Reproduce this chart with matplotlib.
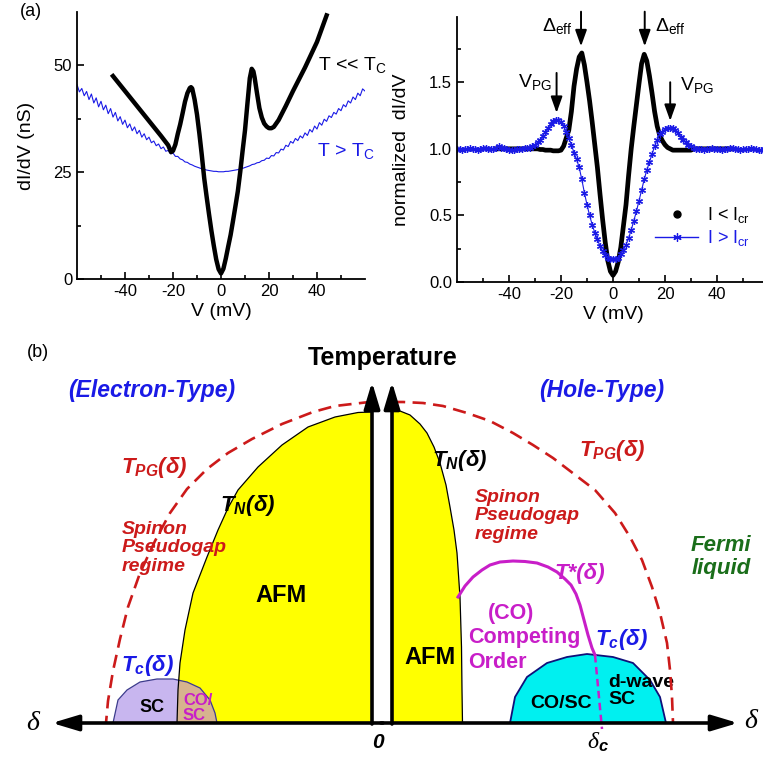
import matplotlib
matplotlib.use('Agg')
import matplotlib.pyplot as plt
from matplotlib.lines import Line2D
from matplotlib.patches import Polygon
import numpy as np

plt.rcParams['font.family'] = 'Liberation Sans'
plt.rcParams['axes.unicode_minus'] = False
plt.rcParams['mathtext.fontset'] = 'custom'
plt.rcParams['mathtext.rm'] = 'Liberation Sans'
plt.rcParams['mathtext.it'] = 'Liberation Sans:italic'
plt.rcParams['mathtext.bf'] = 'Liberation Sans:bold'
plt.rcParams['mathtext.bfit'] = 'Liberation Sans:italic:bold'

BLUE = '#1a1ae6'
RED = '#cc1a1a'
MAG = '#c81ec8'
GREEN = '#1a6e1a'

##################### (a) left: raw dI/dV #####################
v_cold = [-45, -40, -35, -30, -25, -22, -20.8, -20, -19, -18, -17, -16, -15, -14, -13,
          -12.5, -12, -11, -10, -9, -8, -7, -6, -5, -4, -3, -2, -1, 0, 1,
          2, 3, 4, 5, 6, 7, 8, 9, 10, 11, 12, 12.8, 13.5, 14, 15,
          16, 17, 18, 19, 20, 21, 22, 24, 27, 30, 35, 40, 44]
g_cold = [47.5, 44.0, 40.5, 37.0, 33.5, 31.3, 29.7, 30.0, 31.5, 34.0, 36.2, 38.8, 41.5, 43.5, 44.7,
          44.9, 44.6, 42.0, 38.5, 34.0, 29.0, 23.6, 19.3, 15.2, 11.3, 7.8, 4.6, 2.3, 1.3, 2.4,
          4.8, 7.6, 10.3, 13.6, 17.0, 20.5, 25.0, 30.0, 34.8, 41.0, 47.0, 49.2, 48.6, 47.2, 43.5,
          40.0, 37.8, 36.4, 35.7, 35.3, 35.3, 35.6, 37.2, 40.5, 44.0, 49.5, 55.5, 61.7]

v_warm = list(range(-60, 61))
g_warm = [45.5, 43.8, 44.6, 42.9, 43.9, 42.0, 43.3, 41.2, 42.4, 40.3,
          41.6, 39.6, 40.7, 38.7, 39.9, 37.9, 39.0, 37.0, 38.0, 36.2,
          37.2, 35.4, 36.3, 34.7, 35.6, 34.0, 34.8, 33.2, 34.0, 32.6,
          33.2, 31.9, 32.3, 31.2, 31.6, 30.5, 30.9, 29.9, 30.1, 29.3,
          29.5, 28.7, 28.7, 28.1, 27.9, 27.4, 27.3, 26.9, 26.7, 26.4,
          26.2, 26.0, 25.8, 25.7, 25.5, 25.4, 25.3, 25.2, 25.2, 25.1,
          25.1, 25.1, 25.2, 25.2, 25.3, 25.4, 25.5, 25.6, 25.8, 25.9,
          26.1, 26.3, 26.5, 26.8, 26.9, 27.2, 27.3, 27.7, 27.8, 28.3,
          28.2, 28.9, 28.8, 29.6, 29.5, 30.4, 30.2, 31.3, 31.0, 32.2,
          31.8, 32.9, 32.4, 33.5, 33.0, 34.2, 33.6, 35.0, 34.4, 35.8,
          35.1, 36.6, 36.0, 37.4, 36.9, 38.2, 37.8, 39.0, 38.6, 39.9,
          39.4, 40.8, 40.3, 41.7, 41.2, 42.6, 42.0, 43.5, 42.9, 44.5,
          44.0]

##################### (a) right: normalized dI/dV #####################
v_lo = list(range(-45, 46))
n_lo = [1.0, 1.0, 1.0, 1.0, 1.0, 1.0, 1.0, 1.0, 1.0, 1.0,
        1.0, 1.0, 1.0, 1.0, 1.0, 1.0, 1.0, 0.995, 0.995,
        0.99, 0.99, 0.99, 0.985, 0.985, 0.985, 0.99, 1.02, 1.08, 1.14,
        1.28, 1.47, 1.6, 1.69, 1.72, 1.63, 1.5, 1.36, 1.2, 1.03,
        0.86, 0.66, 0.47, 0.3, 0.16, 0.08, 0.05, 0.08, 0.15, 0.26,
        0.42, 0.58, 0.8, 1.0, 1.17, 1.33, 1.49, 1.64, 1.71, 1.66,
        1.55, 1.42, 1.28, 1.17, 1.1, 1.06, 1.03, 1.01, 1.0, 0.99,
        0.99, 0.99, 0.99, 0.99, 0.99, 0.99, 0.99,
        1.0, 1.0, 1.0, 1.0, 1.0, 1.0, 1.0, 1.0, 1.0, 1.0, 1.0, 1.0, 1.0, 1.0, 1.0]

v_hi = list(range(-60, 61))
n_hi = [1.0, 1.0, 0.99, 1.0, 1.0, 1.01, 1.0, 1.0, 0.99, 1.0, 1.01, 1.01, 1.0, 1.0,
        1.0, 1.01, 1.02, 1.01, 1.01, 1.0, 0.99, 0.99, 0.99, 1.0, 1.0, 1.0, 1.01, 1.01,
        1.01, 1.02, 1.03, 1.05, 1.07, 1.1, 1.13, 1.16, 1.19, 1.21, 1.22, 1.22, 1.2,
        1.17, 1.13, 1.08, 1.03,
        0.97, 0.92, 0.86, 0.77, 0.67, 0.58, 0.5, 0.43, 0.37, 0.32, 0.27, 0.23, 0.2,
        0.18, 0.17, 0.17,
        0.17, 0.18, 0.21, 0.24, 0.28, 0.33, 0.39, 0.46, 0.53, 0.61, 0.69, 0.77, 0.84,
        0.9, 0.96, 1.02, 1.07, 1.11, 1.13, 1.15, 1.16, 1.16, 1.16, 1.14, 1.12, 1.09,
        1.07, 1.05, 1.03, 1.02, 1.01,
        1.0, 1.0, 1.0, 0.99, 1.0, 1.0, 1.01, 1.0, 1.0, 1.0, 0.99, 1.0, 1.0, 1.01,
        1.01, 1.0, 1.0, 0.99, 1.0, 1.0, 1.0, 1.01, 1.0, 1.0, 0.99, 0.99, 1.0, 1.0, 1.0]

##################### (b) schematic phase diagram #####################
# x = horizontal position, t = height above the doping axis
tpg_e_x = [372, 365, 335, 313, 282, 252, 228, 207, 187, 170, 155, 140, 128, 120, 113, 108, 106]
tpg_e_t = [321, 320.5, 317, 311, 299, 284, 270, 254, 234, 210, 182, 150, 116, 84, 52, 22, 0]
tpg_h_x = [392, 403, 423, 443, 467, 490, 513, 533, 553, 574, 595, 615, 630, 642, 652, 660, 667, 670, 672, 673]
tpg_h_t = [321, 321, 320, 317, 310, 302, 290, 278, 265, 249, 233, 210, 186, 163, 136, 110, 80, 53, 26, 0]

afm_e_x = [372, 358, 335, 308, 282, 258, 238, 228, 218, 207, 193, 185, 180, 178, 177]
afm_e_t = [311, 310.5, 306, 296, 278, 256, 233, 215, 193, 166, 130, 93, 60, 33, 0]
afm_h_x = [392, 400, 410, 420, 427, 434, 440, 446, 450, 454, 457, 460, 461.5, 462, 462.5]
afm_h_t = [313, 312, 308, 299, 290, 276, 260, 238, 216, 193, 170, 126, 76, 33, 0]

sc_e_x = [113, 118, 127, 140, 157, 173, 187, 200, 210, 215, 217]
sc_e_t = [0, 23, 33, 41, 44, 44, 41, 35, 23, 10, 0]
sc_h_x = [510, 515, 527, 547, 567, 587, 613, 633, 650, 660, 666]
sc_h_t = [0, 26, 46, 60, 66, 69, 66, 60, 43, 26, 0]

tstar_x = [458, 465, 473, 482, 490, 500, 513, 525, 537, 548, 557, 565, 571, 576, 580, 584, 588, 592, 595]
tstar_t = [126, 137, 146, 153, 158, 161, 162, 161.5, 160, 156, 151, 144, 138, 129, 118, 103, 88, 75, 68]
dc_x = [595, 602]
dc_t = [68, -6]

fig = plt.figure(figsize=(7.63, 7.58), dpi=100)


def style_axes(ax):
    for s in ['top', 'right']:
        ax.spines[s].set_visible(False)
    for s in ['left', 'bottom']:
        ax.spines[s].set_linewidth(1.3)
    ax.tick_params(which='both', direction='in', width=1.2, labelsize=12)
    ax.tick_params(which='major', length=5)
    ax.tick_params(which='minor', length=3)


# ---- left panel ----
ax1 = fig.add_axes([77 / 763, 1 - 279 / 758, 288 / 763, 267 / 758])
ax1.plot(v_warm, g_warm, color=BLUE, lw=0.8)
ax1.plot(v_cold, g_cold, color='k', lw=3.2, solid_joinstyle='round')
ax1.set_xlim(-60, 60)
ax1.set_ylim(0, 62.5)
ax1.set_xticks([-40, -20, 0, 20, 40])
ax1.set_xticks([-50, -30, -10, 10, 30, 50], minor=True)
ax1.set_yticks([0, 25, 50])
ax1.set_yticks([12.5, 37.5], minor=True)
style_axes(ax1)
ax1.set_xlabel('V (mV)', fontsize=14, labelpad=3)
ax1.set_ylabel('dI/dV (nS)', fontsize=14, labelpad=13)
ax1.text(40.4, 50, r'T << T$_\mathrm{C}$', fontsize=14, va='center', ha='left', clip_on=False)
ax1.text(40, 30, r'T > T$_\mathrm{C}$', fontsize=14, va='center', ha='left', color=BLUE)
fig.text(20 / 763, 1 - 12 / 758, '(a)', fontsize=13, ha='left', va='center')

# ---- right panel ----
ax2 = fig.add_axes([457 / 763, 1 - 282 / 758, 312 / 763, 265 / 758])
ax2.plot(v_lo, n_lo, color='k', lw=3.4, solid_joinstyle='round')
ax2.plot(v_hi, n_hi, color=BLUE, lw=0.8, marker=(6, 2, 0), ms=5, mew=0.9)
ax2.set_xlim(-60, 60)
ax2.set_ylim(0, 1.99)
ax2.set_xticks([-40, -20, 0, 20, 40])
ax2.set_xticks([-50, -30, -10, 10, 30, 50], minor=True)
ax2.set_yticks([0, 0.5, 1.0, 1.5])
ax2.set_yticks([0.25, 0.75, 1.25, 1.75], minor=True)
ax2.set_yticklabels(['0.0', '0.5', '1.0', '1.5'])
style_axes(ax2)
ax2.set_xlabel('V (mV)', fontsize=14, labelpad=3)
ax2.set_ylabel('normalized  dI/dV', fontsize=14, labelpad=14)

arrow_kw = dict(arrowstyle='-|>,head_width=0.25,head_length=0.7', color='k', lw=1.4,
                mutation_scale=14, shrinkA=0, shrinkB=0)
for xa, y0, y1 in [(-12.3, 2.03, 1.77), (12.2, 2.03, 1.77), (-21.7, 1.57, 1.27), (22.0, 1.50, 1.21)]:
    ax2.annotate('', xy=(xa, y1), xytext=(xa, y0), arrowprops=arrow_kw, annotation_clip=False)
ax2.text(-15.6, 1.92, r'$\Delta_\mathrm{eff}$', fontsize=14, ha='right', va='center')
ax2.text(16.0, 1.92, r'$\Delta_\mathrm{eff}$', fontsize=14, ha='left', va='center')
ax2.text(-23.6, 1.50, r'V$_\mathrm{PG}$', fontsize=14, ha='right', va='center')
ax2.text(25.8, 1.48, r'V$_\mathrm{PG}$', fontsize=14, ha='left', va='center')

handles = [Line2D([], [], color='k', marker='o', ms=5, ls='none'),
           Line2D([], [], color=BLUE, marker=(6, 2, 0), ms=6, lw=1.0, mew=0.9)]
leg = ax2.legend(handles, [r'I < I$_\mathrm{cr}$', r'I > I$_\mathrm{cr}$'], loc='upper left',
                 bbox_to_anchor=(0.6, 0.33), frameon=False, fontsize=13, handlelength=2.4,
                 handletextpad=0.5, labelspacing=0.15, borderpad=0.1)
leg.get_texts()[1].set_color(BLUE)

##################### (b) #####################
ax3 = fig.add_axes([0, 0, 1, 428 / 758])
ax3.set_xlim(0, 763)
ax3.set_ylim(-35, 393)
ax3.axis('off')

# AFM regions
afm_e_poly = Polygon(list(zip(afm_e_x, afm_e_t)) + [(372, 0)], closed=True, fc='#ffff00', ec='none', zorder=1)
afm_h_poly = Polygon(list(zip(afm_h_x, afm_h_t)) + [(392, 0)], closed=True, fc='#ffff00', ec='none', zorder=1)
ax3.add_patch(afm_e_poly)
ax3.add_patch(afm_h_poly)

# SC domes
ax3.fill(sc_e_x, sc_e_t, fc='#c8b6ef', ec='none', zorder=2)
tan = ax3.fill(sc_e_x, sc_e_t, fc='#d6b48e', ec='none', zorder=2.5)[0]
tan.set_clip_path(afm_e_poly)
ax3.plot(sc_e_x, sc_e_t, color='#3c3c8c', lw=0.9, zorder=3)
ax3.fill(sc_h_x, sc_h_t, fc='#00f0f0', ec='none', zorder=2)
ax3.plot(sc_h_x, sc_h_t, color='#10107a', lw=1.3, zorder=3)

# T_N boundaries
ax3.plot(afm_e_x, afm_e_t, color='k', lw=0.9, zorder=3)
ax3.plot(afm_h_x, afm_h_t, color='k', lw=0.9, zorder=3)

# pseudogap crossover
ax3.plot(tpg_e_x, tpg_e_t, color=RED, lw=1.9, ls=(0, (5.0, 2.8)), zorder=4)
ax3.plot(tpg_h_x, tpg_h_t, color=RED, lw=1.9, ls=(0, (5.0, 2.8)), zorder=4)

# T* and delta_c
ax3.plot(tstar_x, tstar_t, color=MAG, lw=2.2, zorder=4)
ax3.plot(dc_x, dc_t, color=MAG, lw=1.8, ls=(0, (3.0, 1.8)), zorder=4)

# axes arrows
ax_kw = dict(arrowstyle='-|>,head_width=0.3,head_length=1.0', color='k', lw=2.6,
             mutation_scale=16, shrinkA=0, shrinkB=0)
ax3.annotate('', xy=(52, 0), xytext=(383, 0), arrowprops=ax_kw, zorder=6)
ax3.annotate('', xy=(738, 0), xytext=(381, 0), arrowprops=ax_kw, zorder=6)
ax3.annotate('', xy=(372, 341), xytext=(372, -1), arrowprops=ax_kw, zorder=6)
ax3.annotate('', xy=(392, 341), xytext=(392, -1), arrowprops=ax_kw, zorder=6)

# labels
ax3.text(38, 371, '(b)', fontsize=13, ha='center', va='center')
ax3.text(383, 365, 'Temperature', fontsize=18, fontweight='bold', ha='center', va='center')
ax3.text(152, 333, '(Electron-Type)', fontsize=16.5, fontweight='bold', style='italic', color=BLUE,
         ha='center', va='center')
ax3.text(602, 333, '(Hole-Type)', fontsize=16.5, fontweight='bold', style='italic', color=BLUE,
         ha='center', va='center')

bi = dict(fontweight='bold', style='italic', ha='center', va='center')
ax3.text(154, 255, r'T$_{\mathbfit{PG}}$(δ)', fontsize=16, color=RED, **bi)
ax3.text(612, 273, r'T$_{\mathbfit{PG}}$(δ)', fontsize=16, color=RED, **bi)
ax3.text(248, 218, r'T$_{\mathbfit{N}}$(δ)', fontsize=16, color='k', **bi)
ax3.text(460, 263, r'T$_{\mathbfit{N}}$(δ)', fontsize=16, color='k', **bi)
ax3.text(147, 58, r'T$_{\mathbfit{c}}$(δ)', fontsize=16, color=BLUE, **bi)
ax3.text(621, 83, r'T$_{\mathbfit{c}}$(δ)', fontsize=16, color=BLUE, **bi)
ax3.text(580, 150, 'T*(δ)', fontsize=16, color=MAG, **bi)

ax3.text(122, 175, 'Spinon\nPseudogap\nregime', fontsize=14, color=RED, fontweight='bold',
         style='italic', ha='left', va='center', linespacing=1.15)
ax3.text(475, 207, 'Spinon\nPseudogap\nregime', fontsize=14, color=RED, fontweight='bold',
         style='italic', ha='left', va='center', linespacing=1.15)
ax3.text(721, 166, 'Fermi\nliquid', fontsize=16, color=GREEN, fontweight='bold',
         style='italic', ha='center', va='center', linespacing=1.15)

b = dict(fontweight='bold', ha='center', va='center')
ax3.text(281, 128, 'AFM', fontsize=17, color='k', **b)
ax3.text(430, 65, 'AFM', fontsize=17, color='k', **b)
ax3.text(152, 15, 'SC', fontsize=13, color='k', **b)
ax3.text(183, 15, 'CO/\nSC', fontsize=12, color=MAG, fontweight='bold', ha='left', va='center',
         linespacing=1.0)
ax3.text(511, 110, '(CO)', fontsize=15.5, color=MAG, **b)
ax3.text(468, 85, 'Competing', fontsize=15.5, color=MAG, fontweight='bold', ha='left', va='center')
ax3.text(468, 60, 'Order', fontsize=15.5, color=MAG, fontweight='bold', ha='left', va='center')
ax3.text(561, 20, 'CO/SC', fontsize=14, color='k', **b)
ax3.text(608, 32, 'd-wave\nSC', fontsize=14, color='k', fontweight='bold', ha='left', va='center',
         linespacing=1.0)

ax3.text(33, 0, 'δ', fontsize=20, family='Liberation Serif', style='italic', ha='center', va='center')
ax3.text(751, 2, 'δ', fontsize=20, family='Liberation Serif', style='italic', ha='center', va='center')
ax3.text(378, -20, '0', fontsize=15, fontweight='bold', style='italic', ha='center', va='center')
ax3.text(598, -19, r'δ$_{\mathbfit{c}}$', fontsize=17, family='Liberation Serif', style='italic',
         ha='center', va='center')

fig.savefig('out.png', dpi=100)
